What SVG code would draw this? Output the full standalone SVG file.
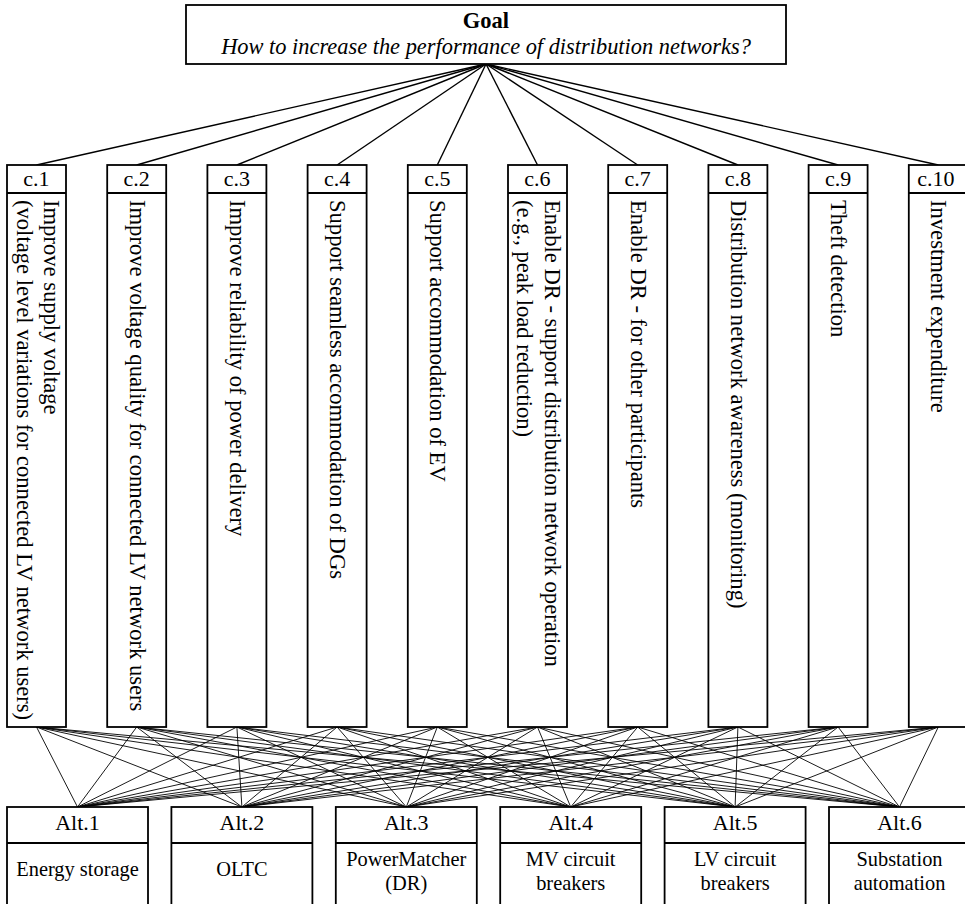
<svg xmlns="http://www.w3.org/2000/svg" width="965" height="904" viewBox="0 0 965 904">
<defs>
<rect id="cbox" width="59" height="562" fill="#fff" stroke="#000" stroke-width="1.8"/>
<rect id="abox" width="141" height="110" fill="#fff" stroke="#000" stroke-width="1.8"/>
</defs>
<rect width="965" height="904" fill="#fff"/>
<g id="connectors">
<g stroke="#000" stroke-width="1.4">
<line x1="486" y1="64" x2="36.5" y2="165"/>
<line x1="486" y1="64" x2="136.7" y2="165"/>
<line x1="486" y1="64" x2="236.9" y2="165"/>
<line x1="486" y1="64" x2="337.1" y2="165"/>
<line x1="486" y1="64" x2="437.3" y2="165"/>
<line x1="486" y1="64" x2="537.5" y2="165"/>
<line x1="486" y1="64" x2="637.7" y2="165"/>
<line x1="486" y1="64" x2="737.9" y2="165"/>
<line x1="486" y1="64" x2="838.1" y2="165"/>
<line x1="486" y1="64" x2="938.3" y2="165"/>
</g>
<g stroke="#000" stroke-width="0.9" fill="none">
<path d="M36.5 727L77.5 807M36.5 727L241.9 807M36.5 727L406.3 807M36.5 727L570.7 807M36.5 727L735.1 807M36.5 727L899.5 807"/>
<path d="M136.7 727L77.5 807M136.7 727L241.9 807M136.7 727L406.3 807M136.7 727L570.7 807M136.7 727L735.1 807M136.7 727L899.5 807"/>
<path d="M236.9 727L77.5 807M236.9 727L241.9 807M236.9 727L406.3 807M236.9 727L570.7 807M236.9 727L735.1 807M236.9 727L899.5 807"/>
<path d="M337.1 727L77.5 807M337.1 727L241.9 807M337.1 727L406.3 807M337.1 727L570.7 807M337.1 727L735.1 807M337.1 727L899.5 807"/>
<path d="M437.3 727L77.5 807M437.3 727L241.9 807M437.3 727L406.3 807M437.3 727L570.7 807M437.3 727L735.1 807M437.3 727L899.5 807"/>
<path d="M537.5 727L77.5 807M537.5 727L241.9 807M537.5 727L406.3 807M537.5 727L570.7 807M537.5 727L735.1 807M537.5 727L899.5 807"/>
<path d="M637.7 727L77.5 807M637.7 727L241.9 807M637.7 727L406.3 807M637.7 727L570.7 807M637.7 727L735.1 807M637.7 727L899.5 807"/>
<path d="M737.9 727L77.5 807M737.9 727L241.9 807M737.9 727L406.3 807M737.9 727L570.7 807M737.9 727L735.1 807M737.9 727L899.5 807"/>
<path d="M838.1 727L77.5 807M838.1 727L241.9 807M838.1 727L406.3 807M838.1 727L570.7 807M838.1 727L735.1 807M838.1 727L899.5 807"/>
<path d="M938.3 727L77.5 807M938.3 727L241.9 807M938.3 727L406.3 807M938.3 727L570.7 807M938.3 727L735.1 807M938.3 727L899.5 807"/>
</g>
</g>
<g id="goal">
<rect x="186" y="5" width="600" height="59" fill="#fff" stroke="#000" stroke-width="1.8"/>
<text x="486" y="28" font-family="Liberation Serif" font-size="22.5" font-weight="bold" text-anchor="middle">Goal</text>
<text x="486" y="54" font-family="Liberation Serif" font-size="22.4" font-style="italic" text-anchor="middle">How to increase the performance of distribution networks?</text>
</g>
<g id="c1">
<use href="#cbox" x="7" y="165"/><line x1="7" y1="193" x2="66" y2="193" stroke="#000" stroke-width="1.8"/>
<text font-family="Liberation Serif" font-size="22" x="36.5" y="186" text-anchor="middle">c.1</text>
<text font-family="Liberation Serif" font-size="22.6" transform="translate(44,200) rotate(90)">Improve supply voltage</text>
<text font-family="Liberation Serif" font-size="22.6" transform="translate(17,200) rotate(90)">(voltage level variations for connected LV network users)</text>
</g>
<g id="c2">
<use href="#cbox" x="107.2" y="165"/><line x1="107.2" y1="193" x2="166.2" y2="193" stroke="#000" stroke-width="1.8"/>
<text font-family="Liberation Serif" font-size="22" x="136.7" y="186" text-anchor="middle">c.2</text>
<text font-family="Liberation Serif" font-size="22.6" transform="translate(129.5,200) rotate(90)">Improve voltage quality for connected LV network users</text>
</g>
<g id="c3">
<use href="#cbox" x="207.4" y="165"/><line x1="207.4" y1="193" x2="266.4" y2="193" stroke="#000" stroke-width="1.8"/>
<text font-family="Liberation Serif" font-size="22" x="236.9" y="186" text-anchor="middle">c.3</text>
<text font-family="Liberation Serif" font-size="22.6" transform="translate(229.7,200) rotate(90)">Improve reliability of power delivery</text>
</g>
<g id="c4">
<use href="#cbox" x="307.6" y="165"/><line x1="307.6" y1="193" x2="366.6" y2="193" stroke="#000" stroke-width="1.8"/>
<text font-family="Liberation Serif" font-size="22" x="337.1" y="186" text-anchor="middle">c.4</text>
<text font-family="Liberation Serif" font-size="22.6" transform="translate(329.9,200) rotate(90)">Support seamless accommodation of DGs</text>
</g>
<g id="c5">
<use href="#cbox" x="407.8" y="165"/><line x1="407.8" y1="193" x2="466.8" y2="193" stroke="#000" stroke-width="1.8"/>
<text font-family="Liberation Serif" font-size="22" x="437.3" y="186" text-anchor="middle">c.5</text>
<text font-family="Liberation Serif" font-size="22.6" transform="translate(430.1,200) rotate(90)">Support accommodation of EV</text>
</g>
<g id="c6">
<use href="#cbox" x="508" y="165"/><line x1="508" y1="193" x2="567" y2="193" stroke="#000" stroke-width="1.8"/>
<text font-family="Liberation Serif" font-size="22" x="537.5" y="186" text-anchor="middle">c.6</text>
<text font-family="Liberation Serif" font-size="22.6" transform="translate(545,200) rotate(90)">Enable DR - support distribution network operation</text>
<text font-family="Liberation Serif" font-size="22.6" transform="translate(517,200) rotate(90)">(e.g., peak load reduction)</text>
</g>
<g id="c7">
<use href="#cbox" x="608.2" y="165"/><line x1="608.2" y1="193" x2="667.2" y2="193" stroke="#000" stroke-width="1.8"/>
<text font-family="Liberation Serif" font-size="22" x="637.7" y="186" text-anchor="middle">c.7</text>
<text font-family="Liberation Serif" font-size="22.6" transform="translate(630.5,200) rotate(90)">Enable DR - for other participants</text>
</g>
<g id="c8">
<use href="#cbox" x="708.4" y="165"/><line x1="708.4" y1="193" x2="767.4" y2="193" stroke="#000" stroke-width="1.8"/>
<text font-family="Liberation Serif" font-size="22" x="737.9" y="186" text-anchor="middle">c.8</text>
<text font-family="Liberation Serif" font-size="22.6" transform="translate(730.7,200) rotate(90)">Distribution network awareness (monitoring)</text>
</g>
<g id="c9">
<use href="#cbox" x="808.6" y="165"/><line x1="808.6" y1="193" x2="867.6" y2="193" stroke="#000" stroke-width="1.8"/>
<text font-family="Liberation Serif" font-size="22" x="838.1" y="186" text-anchor="middle">c.9</text>
<text font-family="Liberation Serif" font-size="22.6" transform="translate(830.9,200) rotate(90)">Theft detection</text>
</g>
<g id="c10">
<use href="#cbox" x="908.8" y="165"/><line x1="908.8" y1="193" x2="967.8" y2="193" stroke="#000" stroke-width="1.8"/>
<text font-family="Liberation Serif" font-size="22" x="936" y="186" text-anchor="middle">c.10</text>
<text font-family="Liberation Serif" font-size="22.6" transform="translate(931.1,200) rotate(90)">Investment expenditure</text>
</g>
<g id="alt1">
<use href="#abox" x="7" y="807"/><line x1="7" y1="843" x2="148" y2="843" stroke="#000" stroke-width="1.8"/>
<text font-family="Liberation Serif" font-size="22" text-anchor="middle" x="77.5" y="830">Alt.1</text>
<text font-family="Liberation Serif" font-size="20.4" text-anchor="middle" x="77.5" y="876">Energy storage</text>
</g>
<g id="alt2">
<use href="#abox" x="171.4" y="807"/><line x1="171.4" y1="843" x2="312.4" y2="843" stroke="#000" stroke-width="1.8"/>
<text font-family="Liberation Serif" font-size="22" text-anchor="middle" x="241.9" y="830">Alt.2</text>
<text font-family="Liberation Serif" font-size="20.4" text-anchor="middle" x="241.9" y="876">OLTC</text>
</g>
<g id="alt3">
<use href="#abox" x="335.8" y="807"/><line x1="335.8" y1="843" x2="476.8" y2="843" stroke="#000" stroke-width="1.8"/>
<text font-family="Liberation Serif" font-size="22" text-anchor="middle" x="406.3" y="830">Alt.3</text>
<text font-family="Liberation Serif" font-size="20.4" text-anchor="middle" x="406.3" y="866">PowerMatcher</text>
<text font-family="Liberation Serif" font-size="20.4" text-anchor="middle" x="406.3" y="890">(DR)</text>
</g>
<g id="alt4">
<use href="#abox" x="500.2" y="807"/><line x1="500.2" y1="843" x2="641.2" y2="843" stroke="#000" stroke-width="1.8"/>
<text font-family="Liberation Serif" font-size="22" text-anchor="middle" x="570.7" y="830">Alt.4</text>
<text font-family="Liberation Serif" font-size="20.4" text-anchor="middle" x="570.7" y="866">MV circuit</text>
<text font-family="Liberation Serif" font-size="20.4" text-anchor="middle" x="570.7" y="890">breakers</text>
</g>
<g id="alt5">
<use href="#abox" x="664.6" y="807"/><line x1="664.6" y1="843" x2="805.6" y2="843" stroke="#000" stroke-width="1.8"/>
<text font-family="Liberation Serif" font-size="22" text-anchor="middle" x="735.1" y="830">Alt.5</text>
<text font-family="Liberation Serif" font-size="20.4" text-anchor="middle" x="735.1" y="866">LV circuit</text>
<text font-family="Liberation Serif" font-size="20.4" text-anchor="middle" x="735.1" y="890">breakers</text>
</g>
<g id="alt6">
<use href="#abox" x="829" y="807"/><line x1="829" y1="843" x2="970" y2="843" stroke="#000" stroke-width="1.8"/>
<text font-family="Liberation Serif" font-size="22" text-anchor="middle" x="899.5" y="830">Alt.6</text>
<text font-family="Liberation Serif" font-size="20.4" text-anchor="middle" x="899.5" y="866">Substation</text>
<text font-family="Liberation Serif" font-size="20.4" text-anchor="middle" x="899.5" y="890">automation</text>
</g>
</svg>
